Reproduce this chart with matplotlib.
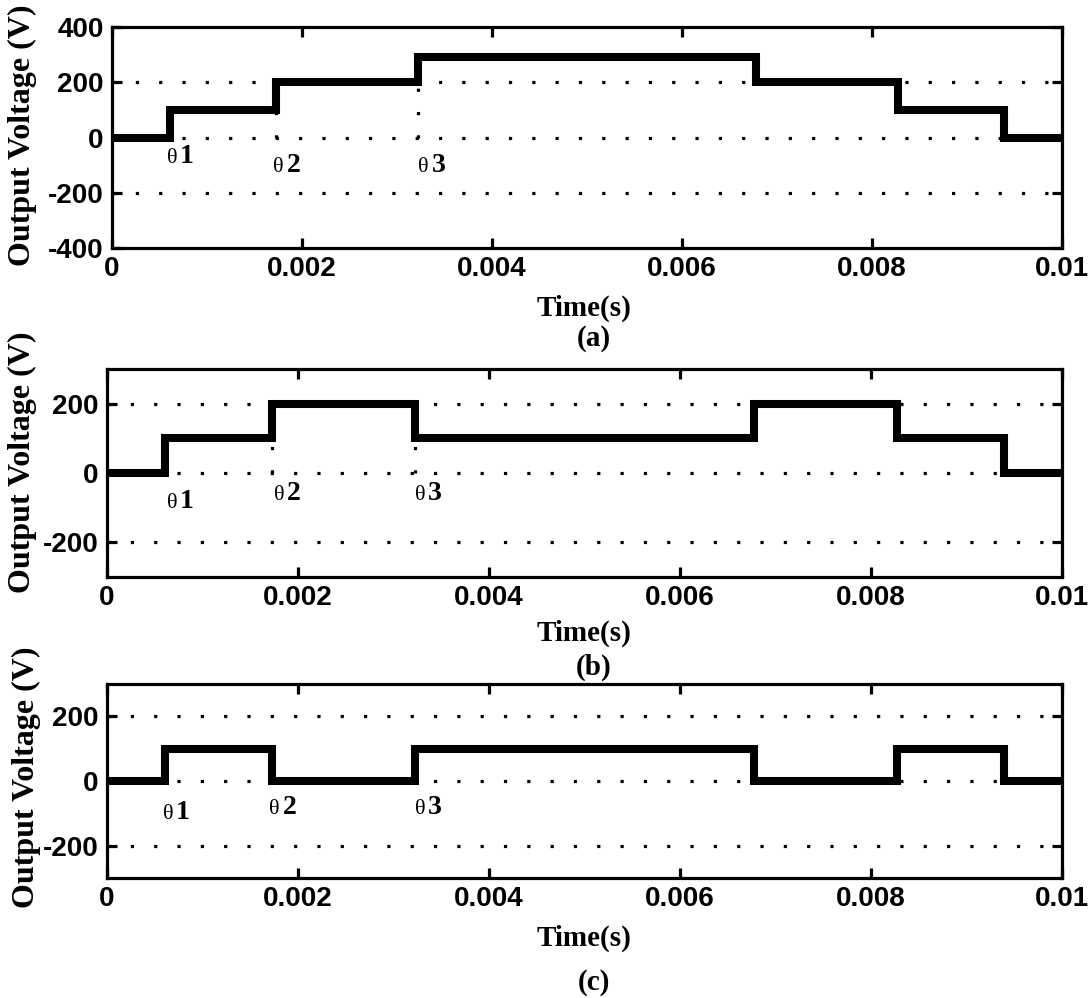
import numpy as np
import matplotlib
matplotlib.use("Agg")
import matplotlib.pyplot as plt

# switching instants (s) and voltage levels (V) for the three waveforms
switch_times = [0.00061, 0.00173, 0.00322, 0.00678, 0.00827, 0.00939]
t_end = 0.01
levels_a = [0, 100, 200, 290, 200, 100, 0]
levels_b = [0, 100, 200, 100, 200, 100, 0]
levels_c = [0, 100, 0, 100, 0, 100, 0]

xticks = [0, 0.002, 0.004, 0.006, 0.008, 0.01]
xtick_labels = ["0", "0.002", "0.004", "0.006", "0.008", "0.01"]
yticks_a = [-400, -200, 0, 200, 400]
yticks_bc = [-200, 0, 200]
grid_a = [-200, 0, 200]
grid_bc = [-200, 0, 200]

# theta labels: (x, baseline y, digit)
theta_a = [(0.000576, -93, "1"), (0.0017, -124, "2"), (0.003225, -124, "3")]
theta_b = [(0.000625, -102, "1"), (0.00175, -78, "2"), (0.003225, -78, "3")]
theta_c = [(0.000583, -118, "1"), (0.0017, -102, "2"), (0.003225, -102, "3")]

# faint dotted guides left under some steps: (t, top level)
guides_a = [(0.00173, 100), (0.00322, 200)]
guides_b = [(0.00173, 100), (0.00322, 100)]
guides_c = []

SANS = "Liberation Sans"
SERIF = "Liberation Serif"
DOT = (0, (1, 6.3))

fig = plt.figure(figsize=(10.91, 9.98), dpi=100)
W, H = 1091.0, 998.0


def px_axes(left, right, top, bottom):
    return fig.add_axes([left / W, 1 - bottom / H, (right - left) / W, (bottom - top) / H])


def panel(ax, levels, ylim, yticks, grid, thetas, guides):
    xs = [0] + switch_times + [t_end]
    ys = levels + [levels[-1]]
    for g in grid:
        ax.plot([0, t_end], [g, g], color="black", lw=2.3, linestyle=DOT,
                dash_capstyle="butt", zorder=1)
    for t, top in guides:
        ax.plot([t, t], [0, top], color="black", lw=2.3, linestyle=DOT,
                dash_capstyle="butt", zorder=1)
    ax.step(xs, ys, where="post", color="black", lw=5.8,
            solid_joinstyle="miter", solid_capstyle="butt", zorder=3)
    ax.set_xlim(0, t_end)
    ax.set_ylim(*ylim)
    ax.set_xticks(xticks)
    ax.set_xticklabels(xtick_labels)
    ax.set_yticks(yticks)
    ax.set_yticklabels([str(v) for v in yticks])
    ax.tick_params(direction="in", length=7, width=2.3, top=True, right=True,
                   labelsize=20, pad=6)
    for lab in ax.get_xticklabels() + ax.get_yticklabels():
        lab.set_fontfamily(SANS)
        lab.set_fontweight("bold")
    for s in ax.spines.values():
        s.set_linewidth(2.3)
    for x, y, d in thetas:
        ax.text(x, y, "\u03b8", fontsize=16, family=SERIF, va="baseline", ha="left")
        ax.annotate(d, xy=(x, y), xytext=(9.5, 0), textcoords="offset points",
                    fontsize=20, family=SERIF, fontweight="bold",
                    va="baseline", ha="left")


ax_a = px_axes(112, 1062, 27, 248)
panel(ax_a, levels_a, (-400, 400), yticks_a, grid_a, theta_a, guides_a)
ax_b = px_axes(107, 1062, 369, 577)
panel(ax_b, levels_b, (-300, 300), yticks_bc, grid_bc, theta_b, guides_b)
ax_c = px_axes(107, 1062, 684, 878)
panel(ax_c, levels_c, (-300, 300), yticks_bc, grid_bc, theta_c, guides_c)

# y labels
for x, y in [(22, 135), (22, 462), (26, 777)]:
    fig.text(x / W, 1 - y / H, "Output Voltage (V)", rotation=90, family=SERIF,
             fontweight="bold", fontsize=23, ha="center", va="center")

# x labels and panel captions
for y_t, y_c, cap in [(308, 338, "(a)"), (633, 667, "(b)"), (938, 983, "(c)")]:
    fig.text(584 / W, 1 - y_t / H, "Time(s)", family=SERIF, fontweight="bold",
             fontsize=21, ha="center", va="center")
    fig.text(594 / W, 1 - y_c / H, cap, family=SERIF, fontweight="bold",
             fontsize=21, ha="center", va="center")

fig.savefig("out.png", dpi=100)
